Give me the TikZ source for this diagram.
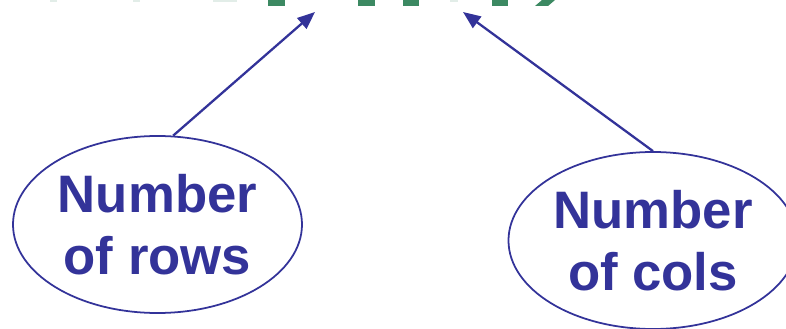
\documentclass[tikz,border=0pt]{standalone}
\usepackage{fontspec}
\setmainfont{Liberation Sans}
\usetikzlibrary{shapes.geometric,arrows.meta}
\definecolor{dimblue}{RGB}{51,51,153}
\definecolor{codegreen}{RGB}{60,137,98}
\tikzset{
  dimlabel/.style={ellipse, draw=dimblue, line width=1pt, inner sep=0pt,
    minimum width=5.78cm, minimum height=3.54cm, align=center,
    text=dimblue, font=\fontsize{30}{35}\selectfont\bfseries},
  dimarrow/.style={-{Triangle[length=10pt,width=8pt]}, draw=dimblue, line width=1.3pt}
}
\begin{document}
\begin{tikzpicture}
    \useasboundingbox (0,0) rectangle (15.72,-6.58);

    % Нижние края зелёной строки кода
    \fill[codegreen] (5.36,0) rectangle (5.70,-0.12);
    \fill[codegreen] (7.16,0) rectangle (7.50,-0.12);
    \fill[codegreen] (8.06,0) rectangle (8.38,-0.12);
    \fill[codegreen] (9.84,0) rectangle (10.16,-0.12);
    \fill[codegreen] (10.70,-0.12) -- (10.84,0) -- (11.10,0) -- (10.96,-0.12) -- cycle;
    \fill[codegreen!15] (1.00,0) rectangle (1.14,-0.04);
    \fill[codegreen!15] (2.66,0) rectangle (2.80,-0.04);
    \fill[codegreen!15] (4.26,0) rectangle (4.74,-0.04);
    \fill[codegreen!15] (9.00,0) rectangle (9.16,-0.04);

    % Подписи размеров
    \node[dimlabel] (rows) at (3.15,-4.49) {Number\\of rows};
    \node[dimlabel] (cols) at (13.06,-4.81) {Number\\of cols};

    % Концы стрелок
    \coordinate (rowsarg) at (6.30,-0.24);
    \coordinate (colsarg) at (9.26,-0.24);

    % Стрелки к аргументам
    \draw[dimarrow] (rows.80) -- (rowsarg);
    \draw[dimarrow] (cols.north) -- (colsarg);
\end{tikzpicture}
\end{document}
